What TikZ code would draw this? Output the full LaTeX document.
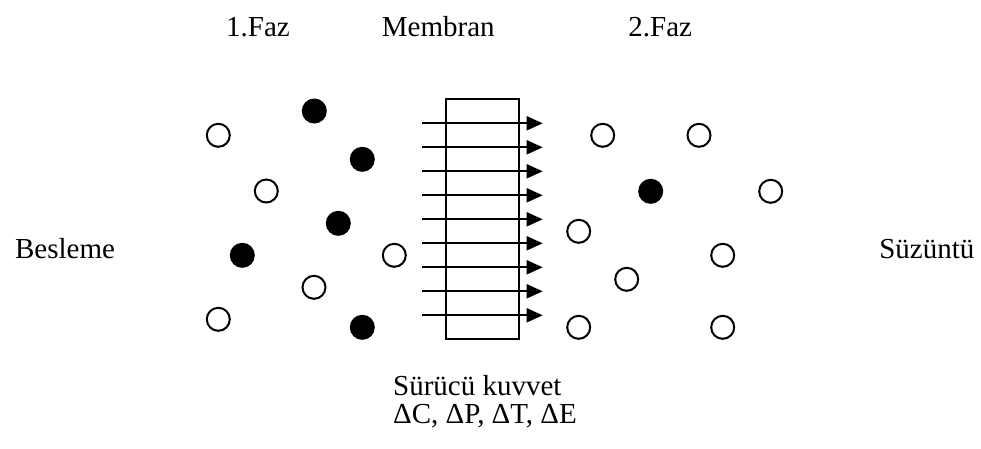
\documentclass[tikz,border=0pt]{standalone}
\usepackage{fontspec}
\setmainfont{Liberation Serif}
\usetikzlibrary{arrows.meta}
\begin{document}
\begin{tikzpicture}[x=1pt,y=-1pt,
  lbl/.style={font=\fontsize{29}{34}\selectfont, inner sep=0pt, anchor=base},
  opendot/.style={circle, draw, line width=2pt, minimum size=23pt, inner sep=0pt},
  filldot/.style={circle, fill, draw, line width=2pt, minimum size=23pt, inner sep=0pt},
  flow/.style={line width=1.8pt, -{Triangle[length=16pt,width=14pt]}},
  membox/.style={draw, line width=1.8pt, minimum width=73pt, minimum height=240pt, inner sep=0pt}]
\useasboundingbox (0,0) rectangle (981,448);
% labels
\node[lbl] (faz1) at (258,36) {1.Faz};
\node[lbl] (memb) at (438.3,36) {Membran};
\node[lbl] (faz2) at (660.2,36) {2.Faz};
\node[lbl] (besl) at (65,258.3) {Besleme};
\node[lbl] (suzu) at (926.8,258.3) {Süzüntü};
\node[lbl, anchor=base west] (drv1) at (393,395) {Sürücü kuvvet};
\node[lbl, anchor=base west] (drv2) at (393,423.3) {ΔC, ΔP, ΔT, ΔE};
% membrane
\node[membox] (mem) at (482.5,219.3) {};
% arrows
\foreach \i in {0,...,8}{
  \coordinate (as\i) at (422,123.3+24*\i);
  \coordinate (ae\i) at (542.7,123.3+24*\i);
  \draw[flow] (as\i) -- (ae\i);
}
% phase 1 particles
\node[filldot] (p1) at (314.3,111) {};
\node[opendot] (p2) at (218.3,135.3) {};
\node[filldot] (p3) at (362.3,159.3) {};
\node[opendot] (p4) at (266.3,191) {};
\node[filldot] (p5) at (338.3,223.3) {};
\node[filldot] (p6) at (242.3,255.3) {};
\node[opendot] (p7) at (394.3,255.3) {};
\node[opendot] (p8) at (314,287.3) {};
\node[opendot] (p9) at (218.3,319.3) {};
\node[filldot] (p10) at (362.3,327.3) {};
% phase 2 particles
\node[opendot] (q1) at (602.7,135.3) {};
\node[opendot] (q2) at (699,135.3) {};
\node[filldot] (q3) at (650.7,191.3) {};
\node[opendot] (q4) at (770.7,191.3) {};
\node[opendot] (q5) at (578.7,231.3) {};
\node[opendot] (q6) at (722.7,255.3) {};
\node[opendot] (q7) at (626.7,279.3) {};
\node[opendot] (q8) at (578.7,327.3) {};
\node[opendot] (q9) at (722.7,327.3) {};
\end{tikzpicture}
\end{document}
